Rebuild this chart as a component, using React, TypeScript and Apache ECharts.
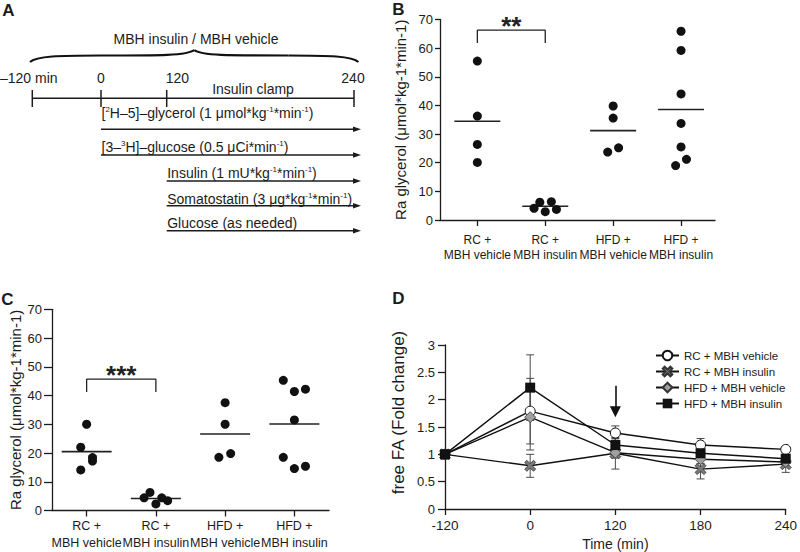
import React, { useEffect, useRef } from "react";
import * as echarts from "echarts";

const FONT = '"Liberation Sans", Arial, Helvetica, sans-serif';
const INK = "#1c1c1c";

// ---------------- Panel A: protocol ----------------
const protocolTitle = "MBH insulin / MBH vehicle";
const timelineLabels = ["–120 min", "0", "120", "240"];
const clampLabel = "Insulin clamp";
const infusionLabels = [
  "{n|[}{s|2}{n|H–5]–glycerol (1 μmol*kg}{s|-1}{n|*min}{s|-1}{n|)}",
  "{n|[3–}{s|3}{n|H]–glucose (0.5 μCi*min}{s|-1}{n|)}",
  "{n|Insulin (1 mU*kg}{s|-1}{n|*min}{s|-1}{n|)}",
  "{n|Somatostatin (3 μg*kg}{s|-1}{n|*min}{s|-1}{n|)}",
  "{n|Glucose (as needed)}",
];
const infusionStart = [1, 1, 2, 2, 2]; // index into timelineLabels

// ---------------- Panels B & C ----------------
const groupLabels = ["RC +\nMBH vehicle", "RC +\nMBH insulin", "HFD +\nMBH vehicle", "HFD +\nMBH insulin"];
const raAxisName = "Ra glycerol (μmol*kg-1*min-1)";

const bRCVehicle = [55.5, 36.3, 26.4, 20.1];
const bRCInsulin = [4.1, 6.2, 2.9, 6.4, 3.7];
const bHFDVehicle = [39.8, 35.6, 23.7, 25.2];
const bHFDInsulin = [65.9, 59.2, 44.0, 33.7, 25.5, 21.2, 19.0];
const bMeans = [34.5, 4.8, 31.2, 38.6];
const bSignificance = "**";

const cRCVehicle = [30.0, 22.0, 18.4, 17.2, 14.1];
const cRCInsulin = [4.4, 6.3, 2.3, 4.4, 3.4];
const cHFDVehicle = [37.5, 30.0, 18.5, 19.8];
const cHFDInsulin = [45.3, 41.4, 42.2, 31.5, 18.5, 14.6, 15.4];
const cMeans = [20.5, 4.2, 26.6, 30.1];
const cSignificance = "***";

// horizontal jitter of the dots (layout only)
const bJitter = [
  [0, 0, 0, 0],
  [-0.165, -0.08, 0, 0.09, 0.165],
  [0, 0, -0.08, 0.08],
  [0, 0, 0, 0, 0, 0.08, -0.08],
];
const cJitter = [
  [0, -0.085, 0.085, 0.085, -0.085],
  [-0.17, -0.085, 0, 0.085, 0.17],
  [0, 0, -0.09, 0.08],
  [-0.16, 0, 0.16, 0, -0.16, 0, 0.16],
];

// ---------------- Panel D ----------------
const timeCategories = ["-120", "0", "120", "180", "240"];
const seriesNames = ["RC + MBH vehicle", "RC + MBH insulin", "HFD + MBH vehicle", "HFD + MBH insulin"];
const dRCVehicle = [1, 1.79, 1.39, 1.17, 1.09];
const dRCInsulin = [1, 0.79, 1.02, 0.73, 0.82];
const dHFDVehicle = [1, 1.68, 1.03, 0.91, 0.86];
const dHFDInsulin = [1, 2.22, 1.17, 1.02, 0.92];
const dRCVehicleErr = [0, 0.6, 0.13, 0.12, 0.05];
const dRCInsulinErr = [0, 0.21, 0.29, 0.18, 0.15];
const dHFDVehicleErr = [0, 0.6, 0.1, 0.08, 0.06];
const dHFDInsulinErr = [0, 0.6, 0.12, 0.08, 0.06];
const arrowFrom = 2.255;
const arrowTo = 1.78;

const X_PATH =
  "path://M0,2 L2,0 L5,3 L8,0 L10,2 L7,5 L10,8 L8,10 L5,7 L2,10 L0,8 L3,5 Z";

function dots(groups: number[][], jitter: number[][]) {
  const out: number[][] = [];
  groups.forEach((vals, gi) => vals.forEach((v, k) => out.push([gi + 1 + jitter[gi][k], v])));
  return out;
}

function buildOption() {
  const axisLine = { show: true, onZero: false, lineStyle: { color: INK, width: 1.3 } };
  const tickStyle = { color: INK, width: 1.3 };

  const raY = (gridIndex: number, tickLen: number, margin: number, nameGap: number) => ({
    type: "value",
    gridIndex,
    min: 0,
    max: 70,
    interval: 10,
    name: raAxisName,
    nameLocation: "middle",
    nameGap,
    nameTextStyle: { fontSize: 15, fontFamily: FONT, color: INK },
    axisLine,
    axisTick: { show: true, length: tickLen, lineStyle: tickStyle },
    axisLabel: { fontSize: 13, fontFamily: FONT, color: INK, margin },
    splitLine: { show: false },
  });

  const groupX = (gridIndex: number, min: number, max: number, fontSize: number, lineHeight: number, margin: number) => ({
    type: "value",
    gridIndex,
    min,
    max,
    axisLine,
    axisTick: { show: true, length: 6, customValues: [1, 2, 3, 4], lineStyle: tickStyle },
    axisLabel: {
      customValues: [1, 2, 3, 4],
      formatter: (v: number) => groupLabels[Math.round(v) - 1] ?? "",
      fontSize,
      lineHeight,
      margin,
      color: INK,
      fontFamily: FONT,
    },
    splitLine: { show: false },
  });

  const panelSeries = (
    axisIndex: number,
    groups: number[][],
    jitter: number[][],
    means: number[],
    meanWidth: number,
    bracketLow: number,
    bracketHigh: number,
    starY: number,
    stars: string,
  ) => [
    {
      type: "scatter",
      xAxisIndex: axisIndex,
      yAxisIndex: axisIndex,
      data: dots(groups, jitter),
      symbol: "circle",
      symbolSize: 9,
      itemStyle: { color: "#111", opacity: 1 },
      silent: true,
      z: 3,
    },
    {
      type: "scatter",
      xAxisIndex: axisIndex,
      yAxisIndex: axisIndex,
      data: means.map((m, i) => [i + 1, m]),
      symbol: "rect",
      symbolSize: [meanWidth, 1.6],
      itemStyle: { color: "#222", opacity: 1 },
      silent: true,
      z: 2,
    },
    {
      type: "line",
      xAxisIndex: axisIndex,
      yAxisIndex: axisIndex,
      data: [
        [1, bracketLow],
        [1, bracketHigh],
        [2, bracketHigh],
        [2, bracketLow],
      ],
      symbol: "none",
      lineStyle: { color: "#222", width: 1.3 },
      silent: true,
    },
    {
      type: "scatter",
      xAxisIndex: axisIndex,
      yAxisIndex: axisIndex,
      data: [[1.5, starY]],
      symbolSize: 1,
      itemStyle: { color: "rgba(0,0,0,0)", opacity: 1 },
      label: {
        show: true,
        position: "inside",
        formatter: stars,
        fontSize: 26,
        fontWeight: "bold",
        fontFamily: FONT,
        color: "#222",
        opacity: 1,
      },
      silent: true,
      z: 5,
    },
  ];

  const errRender = (_p: any, api: any) => {
    const x = api.value(0);
    const lo = api.coord([x, api.value(1)]);
    const hi = api.coord([x, api.value(2)]);
    const w = 4;
    const st = { stroke: "#4a4a4a", lineWidth: 1 };
    return {
      type: "group",
      children: [
        { type: "line", shape: { x1: lo[0], y1: lo[1], x2: hi[0], y2: hi[1] }, style: st },
        { type: "line", shape: { x1: lo[0] - w, y1: lo[1], x2: lo[0] + w, y2: lo[1] }, style: st },
        { type: "line", shape: { x1: hi[0] - w, y1: hi[1], x2: hi[0] + w, y2: hi[1] }, style: st },
      ],
    };
  };
  const errData = (vals: number[], errs: number[]) =>
    vals.map((v, i) => [i, v - errs[i], v + errs[i]]).filter((_d, i) => errs[i] > 0);

  const dValues = [dRCVehicle, dRCInsulin, dHFDVehicle, dHFDInsulin];
  const dErrs = [dRCVehicleErr, dRCInsulinErr, dHFDVehicleErr, dHFDInsulinErr];
  const dSymbols: any[] = [
    { symbol: "circle", symbolSize: 10, itemStyle: { color: "#fff", borderColor: "#111", borderWidth: 1 } },
    { symbol: X_PATH, symbolSize: 11, itemStyle: { color: "#7a7a7a", borderColor: "#333", borderWidth: 0.8 } },
    { symbol: "diamond", symbolSize: 11, itemStyle: { color: "#a0a0a0", borderColor: "#333", borderWidth: 0.8 } },
    { symbol: "rect", symbolSize: 10, itemStyle: { color: "#111" } },
  ];

  const dSeries: any[] = [];
  dValues.forEach((vals, i) => {
    dSeries.push({
      type: "custom",
      xAxisIndex: 2,
      yAxisIndex: 2,
      renderItem: errRender,
      data: errData(vals, dErrs[i]),
      encode: { x: 0, y: [1, 2] },
      silent: true,
      z: 1,
    });
  });
  dValues.forEach((vals, i) => {
    dSeries.push({
      type: "line",
      name: seriesNames[i],
      xAxisIndex: 2,
      yAxisIndex: 2,
      data: vals,
      ...dSymbols[i],
      showSymbol: true,
      lineStyle: { color: "#111", width: 1.4 },
      silent: true,
      z: 3 + i,
      markLine:
        i === 3
          ? {
              silent: true,
              symbol: ["none", "triangle"],
              symbolSize: 11,
              label: { show: false },
              lineStyle: { color: "#111", width: 1.6, type: "solid" },
              data: [[{ coord: [2, arrowFrom] }, { coord: [2, arrowTo] }]],
            }
          : undefined,
    });
  });

  // ---------- Panel A graphics (schematic layout) ----------
  const tX = [32.3, 101, 166.7, 354];
  const textRowY = [112.7, 146.7, 172.7, 198.7, 223];
  const lineRowY = [129.3, 155, 181, 205.7, 230.7];
  const arrowEnd = 361;
  const txt = (text: string, x: number, y: number, fontSize: number, align = "center", extra: any = {}) => ({
    type: "text",
    x,
    y,
    silent: true,
    style: { text, fontSize, fontFamily: FONT, fill: INK, align, verticalAlign: "middle", ...extra },
  });
  const graphics: any[] = [];
  graphics.push(txt("A", 8.5, 10.5, 17, "center", { fontWeight: "bold" }));
  graphics.push(txt("B", 398.5, 9, 17, "center", { fontWeight: "bold" }));
  graphics.push(txt("C", 7.5, 299, 17, "center", { fontWeight: "bold" }));
  graphics.push(txt("D", 398.5, 298.5, 17, "center", { fontWeight: "bold" }));
  graphics.push(txt(protocolTitle, 196, 39, 14));
  // brace
  const braceStyle = { stroke: "#111", lineWidth: 2.2, fill: "none" };
  const cx = 194.2;
  const mirror = (x: number) => 2 * cx - x;
  const braceL = [
    { x1: 30, y1: 62, cpx1: 36, cpy1: 56, cpx2: 60, cpy2: 55.5, x2: 100, y2: 55.5 },
    { x1: 100, y1: 55.5, cpx1: 160, cpy1: 55.5, cpx2: 188, cpy2: 55.5, x2: cx, y2: 50 },
  ];
  braceL.forEach((s) => {
    graphics.push({ type: "bezierCurve", silent: true, shape: s, style: braceStyle });
    graphics.push({
      type: "bezierCurve",
      silent: true,
      shape: {
        x1: mirror(s.x1), y1: s.y1, cpx1: mirror(s.cpx1), cpy1: s.cpy1,
        cpx2: mirror(s.cpx2), cpy2: s.cpy2, x2: mirror(s.x2), y2: s.y2,
      },
      style: braceStyle,
    });
  });
  // timeline
  graphics.push({ type: "line", silent: true, shape: { x1: tX[0], y1: 98.3, x2: tX[3], y2: 98.3 }, style: { stroke: INK, lineWidth: 1.5 } });
  tX.forEach((x) =>
    graphics.push({ type: "line", silent: true, shape: { x1: x, y1: 90, x2: x, y2: 107 }, style: { stroke: INK, lineWidth: 1.5 } }),
  );
  graphics.push(txt(timelineLabels[0], 0, 78, 14, "left"));
  graphics.push(txt(timelineLabels[1], 101, 78, 14, "center"));
  graphics.push(txt(timelineLabels[2], 165.7, 78, 14, "left"));
  graphics.push(txt(timelineLabels[3], 353, 78, 14, "center"));
  graphics.push(txt(clampLabel, 253, 89, 14, "center"));
  // infusions
  infusionLabels.forEach((lab, i) => {
    const x0 = tX[infusionStart[i]];
    const ly = lineRowY[i];
    graphics.push({
      type: "text",
      x: x0 + 0.5,
      y: textRowY[i],
      silent: true,
      style: {
        text: lab,
        fontFamily: FONT,
        fill: INK,
        align: "left",
        verticalAlign: "middle",
        rich: {
          n: { fontSize: 14, lineHeight: 15, fontFamily: FONT, fill: INK },
          s: { fontSize: 8, lineHeight: 8, verticalAlign: "top", fontFamily: FONT, fill: INK },
        },
      },
    });
    graphics.push({ type: "line", silent: true, shape: { x1: x0, y1: ly, x2: arrowEnd - 6, y2: ly }, style: { stroke: INK, lineWidth: 1.4 } });
    graphics.push({
      type: "polygon",
      silent: true,
      shape: { points: [[arrowEnd - 8, ly - 2.8], [arrowEnd, ly], [arrowEnd - 8, ly + 2.8]] },
      style: { fill: INK },
    });
  });

  return {
    animation: false,
    backgroundColor: "#fff",
    textStyle: { fontFamily: FONT, color: INK },
    grid: [
      { left: 440, top: 19.5, width: 275, height: 200.5 },
      { left: 52, top: 309.3, width: 277, height: 204 },
      { left: 445, top: 345, width: 341.7, height: 165 },
    ],
    xAxis: [
      groupX(0, 0.45, 4.5, 12, 15, 12.5),
      groupX(1, 0.5, 4.5, 12.5, 17.5, 6.5),
      {
        type: "category",
        gridIndex: 2,
        data: timeCategories,
        boundaryGap: false,
        name: "Time (min)",
        nameLocation: "middle",
        nameGap: 28,
        nameTextStyle: { fontSize: 14, fontFamily: FONT, color: INK },
        axisLine,
        axisTick: { show: true, length: 6, lineStyle: tickStyle },
        axisLabel: { interval: 0, fontSize: 13.5, fontFamily: FONT, color: INK, margin: 9 },
        splitLine: { show: false },
      },
    ],
    yAxis: [
      raY(0, 5, 7, 32.5),
      raY(1, 8, 10, 29.5),
      {
        type: "value",
        gridIndex: 2,
        min: 0,
        max: 3,
        interval: 0.5,
        name: "free FA (Fold change)",
        nameLocation: "middle",
        nameGap: 38,
        nameTextStyle: { fontSize: 17, fontFamily: FONT, color: INK, padding: [0, 0, 0, 29] },
        axisLine,
        axisTick: { show: true, length: 7, lineStyle: tickStyle },
        axisLabel: { fontSize: 13, fontFamily: FONT, color: INK, margin: 10 },
        splitLine: { show: false },
      },
    ],
    legend: {
      data: seriesNames,
      orient: "vertical",
      left: 650,
      top: 344.5,
      itemWidth: 23,
      itemHeight: 12,
      itemGap: 4,
      selectedMode: false,
      textStyle: { fontSize: 11.5, lineHeight: 12, fontFamily: FONT, color: INK },
    },
    graphic: graphics,
    series: [
      ...panelSeries(0, [bRCVehicle, bRCInsulin, bHFDVehicle, bHFDInsulin], bJitter, bMeans, 46, 61.8, 66.3, 67.8, bSignificance),
      ...panelSeries(1, [cRCVehicle, cRCInsulin, cHFDVehicle, cHFDInsulin], cJitter, cMeans, 50, 41.2, 45.7, 47.2, cSignificance),
      ...dSeries,
    ],
  };
}

export default function App() {
  const ref = useRef<HTMLDivElement>(null);
  useEffect(() => {
    if (!ref.current) return;
    const chart = echarts.init(ref.current, null, { renderer: "svg" });
    chart.setOption(buildOption() as any);
    return () => chart.dispose();
  }, []);
  return (
    <div
      ref={ref}
      style={{ position: "fixed", left: 0, top: 0, width: 800, height: 552, background: "#fff" }}
    />
  );
}
